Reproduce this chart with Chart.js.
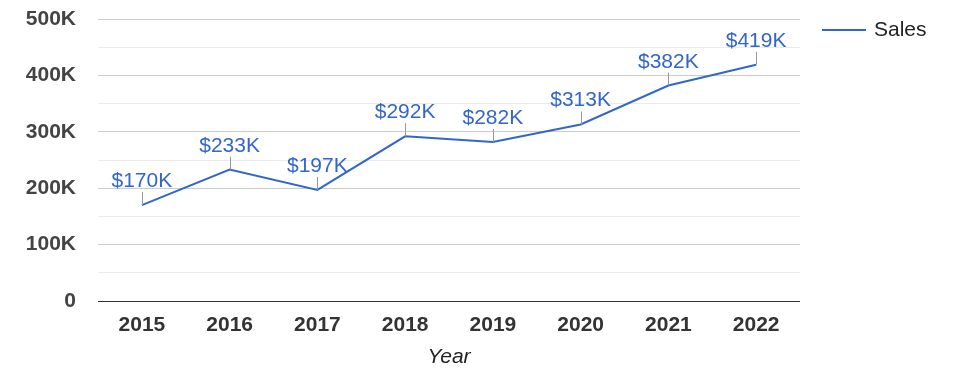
<!DOCTYPE html>
<html>
<head>
<meta charset="utf-8">
<script src="https://cdn.jsdelivr.net/npm/chart.js@4"></script>
<style>
  html, body { margin: 0; padding: 0; background: #fff; }
  #wrap { width: 975px; height: 378px; }
</style>
</head>
<body>
<div id="wrap"><canvas id="sales"></canvas></div>
<script>
// data
const years = ['2015', '2016', '2017', '2018', '2019', '2020', '2021', '2022'];
const sales = [170000, 233000, 197000, 292000, 282000, 313000, 382000, 419000];
const seriesName = 'Sales';
const xTitle = 'Year';
const yTicks = [0, 50000, 100000, 150000, 200000, 250000, 300000, 350000, 400000, 450000, 500000];

const lineColor = '#3366cc';
const fontFam = '"Liberation Sans", Arial, sans-serif';

function kLabel(v) {
    if (v === 0) return '0';
    return (v / 1000) + 'K';
}

// point annotations: small gray stem + "$xxxK" above each point
const pointLabels = {
    id: 'pointLabels',
    afterDatasetsDraw(chart) {
        const ctx = chart.ctx;
        const meta = chart.getDatasetMeta(0);
        const vals = chart.data.datasets[0].data;
        ctx.save();
        meta.data.forEach(function(pt, i) {
            ctx.strokeStyle = '#999999';
            ctx.lineWidth = 1;
            ctx.beginPath();
            ctx.moveTo(Math.round(pt.x) + 0.5, pt.y);
            ctx.lineTo(Math.round(pt.x) + 0.5, pt.y - 13);
            ctx.stroke();
            ctx.fillStyle = lineColor;
            ctx.font = '21px ' + fontFam;
            ctx.textAlign = 'center';
            ctx.textBaseline = 'alphabetic';
            ctx.fillText('$' + Math.round(vals[i] / 1000) + 'K', pt.x, pt.y - 18);
        });
        ctx.restore();
    }
};

// legend on the right, drawn by hand
const sideLegend = {
    id: 'sideLegend',
    afterDraw(chart) {
        const ctx = chart.ctx;
        const area = chart.chartArea;
        const y = area.top + 11;
        ctx.save();
        ctx.strokeStyle = lineColor;
        ctx.lineWidth = 2;
        ctx.beginPath();
        ctx.moveTo(area.right + 22, y);
        ctx.lineTo(area.right + 66, y);
        ctx.stroke();
        ctx.fillStyle = '#222222';
        ctx.font = '21px ' + fontFam;
        ctx.textAlign = 'left';
        ctx.textBaseline = 'middle';
        ctx.fillText(chart.data.datasets[0].label, area.right + 74, y);
        ctx.restore();
    }
};

new Chart(document.getElementById('sales'), {
    type: 'line',
    data: {
        labels: years,
        datasets: [{
            label: seriesName,
            data: sales,
            borderColor: lineColor,
            borderWidth: 2,
            pointRadius: 0,
            pointHoverRadius: 0,
            fill: false,
            tension: 0
        }]
    },
    options: {
        responsive: true,
        maintainAspectRatio: false,
        animation: false,
        layout: { padding: { left: 0, right: 175, top: 19, bottom: 0 } },
        plugins: {
            legend: { display: false },
            tooltip: { enabled: false }
        },
        scales: {
            x: {
                offset: true,
                grid: { display: false, drawTicks: false },
                border: { display: false },
                ticks: {
                    color: '#333333',
                    padding: 12,
                    font: { family: fontFam, size: 21, weight: 'bold' }
                },
                title: {
                    display: true,
                    text: xTitle,
                    color: '#222222',
                    padding: { top: 6, bottom: 8 },
                    font: { family: fontFam, size: 21, style: 'italic' }
                },
                afterFit(scale) {
                    scale.height = 77;
                    scale.paddingLeft = 0;
                    scale.paddingRight = 0;
                }
            },
            y: {
                min: yTicks[0],
                max: yTicks[yTicks.length - 1],
                afterBuildTicks(scale) {
                    scale.ticks = yTicks.map(function(v) { return { value: v }; });
                },
                ticks: {
                    autoSkip: false,
                    padding: 22,
                    color: '#444444',
                    font: { family: fontFam, size: 21, weight: 'bold' },
                    callback: function(v) { return v % 100000 === 0 ? kLabel(v) : ''; }
                },
                grid: {
                    drawTicks: false,
                    lineWidth: 1,
                    color: function(c) {
                        if (c.tick.value === 0) return '#333333';
                        return c.tick.value % 100000 === 0 ? '#cccccc' : '#ebebeb';
                    }
                },
                border: { display: false },
                afterFit(scale) {
                    scale.width = 98;
                    scale.paddingTop = 0;
                    scale.paddingBottom = 0;
                }
            }
        }
    },
    plugins: [pointLabels, sideLegend]
});
</script>
</body>
</html>
